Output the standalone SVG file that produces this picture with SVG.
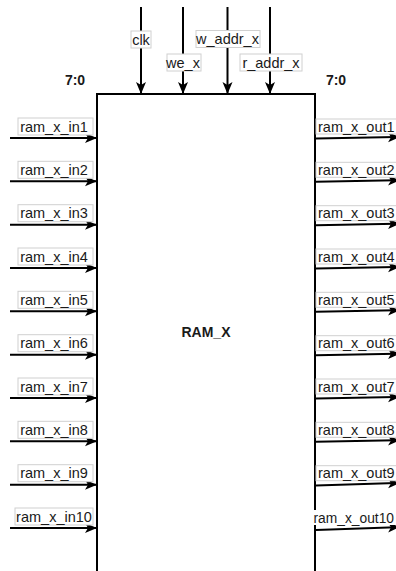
<svg xmlns="http://www.w3.org/2000/svg" width="396" height="571" viewBox="0 0 396 571">
<style>
  .ln{stroke:#000;stroke-width:2;fill:none}
  .lbl{font-family:"Liberation Sans",Arial,Helvetica,sans-serif;font-size:14.5px;fill:#1a1a1a}
  .bx{fill:#fff;stroke:#d0d0d0;stroke-width:1}
  .bold{font-family:"Liberation Sans",Arial,Helvetica,sans-serif;font-size:14px;font-weight:bold;fill:#1a1a1a}
</style>
<defs>
  <marker id="arr" markerUnits="userSpaceOnUse" markerWidth="14" markerHeight="12" refX="12" refY="5" orient="auto" viewBox="0 0 14 10">
    <path d="M0,0 L12,5 L0,10 L3,5 z" fill="#000"/>
  </marker>
</defs>
<rect width="396" height="571" fill="#fff"/>
<g id="ram_x">
  <rect x="97" y="94" width="218" height="490" fill="#fff" stroke="#000" stroke-width="2"/>
  <text class="bold" x="206" y="337" text-anchor="middle">RAM_X</text>
  <text class="bold" x="75" y="85" text-anchor="middle">7:0</text>
  <text class="bold" x="336" y="85" text-anchor="middle">7:0</text>
</g>
<g id="connectors">
  <line class="ln" x1="141" y1="7" x2="141" y2="94" marker-end="url(#arr)"/>
  <line class="ln" x1="183" y1="7" x2="183" y2="94" marker-end="url(#arr)"/>
  <line class="ln" x1="227.5" y1="7" x2="227.5" y2="94" marker-end="url(#arr)"/>
  <line class="ln" x1="270" y1="7" x2="270" y2="94" marker-end="url(#arr)"/>
  <line class="ln" x1="10" y1="138" x2="97" y2="138" marker-end="url(#arr)"/>
  <line class="ln" x1="10" y1="181.3" x2="97" y2="181.3" marker-end="url(#arr)"/>
  <line class="ln" x1="10" y1="224.7" x2="97" y2="224.7" marker-end="url(#arr)"/>
  <line class="ln" x1="10" y1="268" x2="97" y2="268" marker-end="url(#arr)"/>
  <line class="ln" x1="10" y1="311.3" x2="97" y2="311.3" marker-end="url(#arr)"/>
  <line class="ln" x1="10" y1="354.7" x2="97" y2="354.7" marker-end="url(#arr)"/>
  <line class="ln" x1="10" y1="398" x2="97" y2="398" marker-end="url(#arr)"/>
  <line class="ln" x1="10" y1="441.3" x2="97" y2="441.3" marker-end="url(#arr)"/>
  <line class="ln" x1="10" y1="484.7" x2="97" y2="484.7" marker-end="url(#arr)"/>
  <line class="ln" x1="10" y1="528" x2="97" y2="528" marker-end="url(#arr)"/>
  <line class="ln" x1="316" y1="138.5" x2="400" y2="137" marker-end="url(#arr)"/>
  <line class="ln" x1="316" y1="181.8" x2="400" y2="180.3" marker-end="url(#arr)"/>
  <line class="ln" x1="316" y1="225.2" x2="400" y2="223.7" marker-end="url(#arr)"/>
  <line class="ln" x1="316" y1="268.5" x2="400" y2="267" marker-end="url(#arr)"/>
  <line class="ln" x1="316" y1="311.8" x2="400" y2="310.3" marker-end="url(#arr)"/>
  <line class="ln" x1="316" y1="355.2" x2="400" y2="353.7" marker-end="url(#arr)"/>
  <line class="ln" x1="316" y1="398.5" x2="400" y2="397" marker-end="url(#arr)"/>
  <line class="ln" x1="316" y1="441.8" x2="400" y2="440.3" marker-end="url(#arr)"/>
  <line class="ln" x1="316" y1="485.5" x2="400" y2="483" marker-end="url(#arr)"/>
  <line class="ln" x1="316" y1="530" x2="400" y2="527" marker-end="url(#arr)"/>
</g>
<g id="labels">
  <g id="lbl_clk"><rect class="bx" x="131" y="31" width="20" height="17"/><text class="lbl" x="141" y="44.5" text-anchor="middle">clk</text></g>
  <g id="lbl_we_x"><rect class="bx" x="167" y="54" width="34" height="17"/><text class="lbl" x="183" y="67.5" text-anchor="middle">we_x</text></g>
  <g id="lbl_w_addr_x"><rect class="bx" x="196" y="30.5" width="64" height="17"/><text class="lbl" x="227.5" y="44" text-anchor="middle">w_addr_x</text></g>
  <g id="lbl_r_addr_x"><rect class="bx" x="240" y="54" width="62" height="17"/><text class="lbl" x="271" y="67.5" text-anchor="middle">r_addr_x</text></g>

  <g id="lbl_in1"><rect class="bx" x="18" y="118" width="75" height="17"/><text class="lbl" x="54" y="131.5" text-anchor="middle">ram_x_in1</text></g>
  <g id="lbl_in2"><rect class="bx" x="18" y="161.3" width="75" height="17"/><text class="lbl" x="54" y="174.8" text-anchor="middle">ram_x_in2</text></g>
  <g id="lbl_in3"><rect class="bx" x="18" y="204.7" width="75" height="17"/><text class="lbl" x="54" y="218.2" text-anchor="middle">ram_x_in3</text></g>
  <g id="lbl_in4"><rect class="bx" x="18" y="248" width="75" height="17"/><text class="lbl" x="54" y="261.5" text-anchor="middle">ram_x_in4</text></g>
  <g id="lbl_in5"><rect class="bx" x="18" y="291.3" width="75" height="17"/><text class="lbl" x="54" y="304.8" text-anchor="middle">ram_x_in5</text></g>
  <g id="lbl_in6"><rect class="bx" x="18" y="334.7" width="75" height="17"/><text class="lbl" x="54" y="348.2" text-anchor="middle">ram_x_in6</text></g>
  <g id="lbl_in7"><rect class="bx" x="18" y="378" width="75" height="17"/><text class="lbl" x="54" y="391.5" text-anchor="middle">ram_x_in7</text></g>
  <g id="lbl_in8"><rect class="bx" x="18" y="421.3" width="75" height="17"/><text class="lbl" x="54" y="434.8" text-anchor="middle">ram_x_in8</text></g>
  <g id="lbl_in9"><rect class="bx" x="18" y="464.7" width="75" height="17"/><text class="lbl" x="54" y="478.2" text-anchor="middle">ram_x_in9</text></g>
  <g id="lbl_in10"><rect class="bx" x="15" y="508" width="78" height="17"/><text class="lbl" x="54" y="521.5" text-anchor="middle">ram_x_in10</text></g>

  <g id="lbl_out1"><rect class="bx" x="316" y="119" width="85" height="15"/><text class="lbl" x="318" y="131.5">ram_x_out1</text></g>
  <g id="lbl_out2"><rect class="bx" x="316" y="162.3" width="85" height="15"/><text class="lbl" x="318" y="174.8">ram_x_out2</text></g>
  <g id="lbl_out3"><rect class="bx" x="316" y="205.7" width="85" height="15"/><text class="lbl" x="318" y="218.2">ram_x_out3</text></g>
  <g id="lbl_out4"><rect class="bx" x="316" y="249" width="85" height="15"/><text class="lbl" x="318" y="261.5">ram_x_out4</text></g>
  <g id="lbl_out5"><rect class="bx" x="316" y="292.3" width="85" height="15"/><text class="lbl" x="318" y="304.8">ram_x_out5</text></g>
  <g id="lbl_out6"><rect class="bx" x="316" y="335.7" width="85" height="15"/><text class="lbl" x="318" y="348.2">ram_x_out6</text></g>
  <g id="lbl_out7"><rect class="bx" x="316" y="379" width="85" height="15"/><text class="lbl" x="318" y="391.5">ram_x_out7</text></g>
  <g id="lbl_out8"><rect class="bx" x="316" y="422.3" width="85" height="15"/><text class="lbl" x="318" y="434.8">ram_x_out8</text></g>
  <g id="lbl_out9"><rect class="bx" x="316" y="465.7" width="85" height="15"/><text class="lbl" x="318" y="478.2">ram_x_out9</text></g>
  <g id="lbl_out10"><rect x="313" y="510" width="90" height="15" fill="#fff"/><text class="lbl" x="313.5" y="522.5" style="font-size:13.8px">ram_x_out10</text></g>
</g>
</svg>
